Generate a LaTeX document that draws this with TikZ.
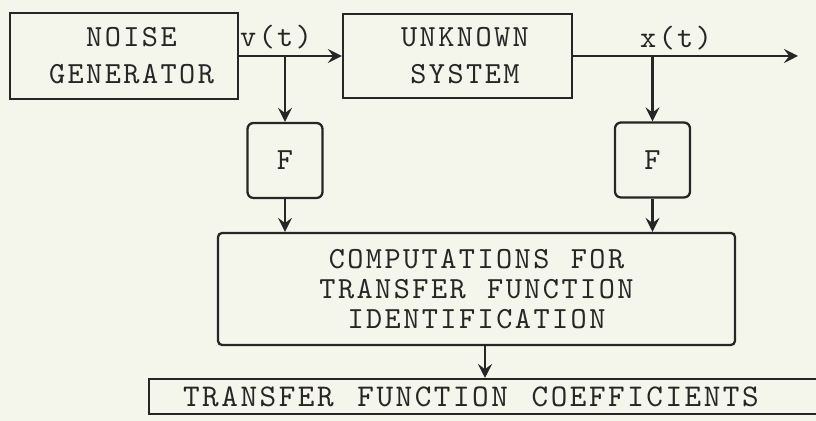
\documentclass[tikz,border=0pt]{standalone}
\usepackage{fontspec}
\newfontfamily\typer{lmmono10-regular.otf}[LetterSpace=8, WordSpace=1.15]
\usetikzlibrary{arrows.meta}
\definecolor{paper}{RGB}{244,245,235}
\definecolor{ink}{RGB}{38,38,38}
\tikzset{
  block/.style={draw=ink, text=ink, line width=1.3pt, inner sep=0pt, align=center,
    font=\typer\fontsize{17.5}{21}\selectfont},
  filt/.style={block, rounded corners=0.12cm, minimum width=1.5cm, minimum height=1.5cm},
  flow/.style={draw=ink, line width=1.3pt, -{Stealth[length=8pt,width=8pt,inset=3pt]}},
  sig/.style={text=ink, inner sep=0pt, font=\typer\fontsize{17.5}{21}\selectfont},
}
\begin{document}
\begin{tikzpicture}[x=0.02cm, y=-0.02cm]
    % background
    \fill[paper] (0,0) rectangle (816,421);
    \clip (0,0) rectangle (816,421);

    % blocks
    \node[block, minimum width=4.56cm, minimum height=1.72cm] (noise) at (124,56) {\hspace{0.3cm}NOISE\\\hspace{0.3cm}GENERATOR};
    \node[block, minimum width=4.58cm, minimum height=1.68cm] (unknown) at (457.5,56) {\hspace{0.3cm}UNKNOWN\\\hspace{0.3cm}SYSTEM};
    \node[filt] (fv) at (285,160.5) {F};
    \node[filt] (fx) at (652.5,160) {F};
    \node[block, rounded corners=0.08cm, minimum width=10.34cm, minimum height=2.24cm,
        font=\typer\fontsize{17.5}{17}\selectfont] (comp) at (476.5,289)
        {COMPUTATIONS FOR\\TRANSFER FUNCTION\\IDENTIFICATION};
    \node[block, anchor=north west, inner xsep=0.68cm, text width=12.88cm, align=left,
        minimum height=0.7cm, font=\typer\fontsize{18}{21}\selectfont] (coef) at (148,378)
        {TRANSFER\hspace{0.75em}FUNCTION\hspace{0.75em}COEFFICIENTS};

    % signal lines
    \coordinate (vbr) at (285,56);
    \coordinate (xbr) at (652.5,56);
    \coordinate (xend) at (798,56);
    \draw[flow] (noise.east) -- (unknown.west);
    \draw[flow] (vbr) -- (fv.north);
    \draw[flow] (unknown.east) -- (xend);
    \draw[flow] (xbr) -- (fx.north);
    \draw[flow] (fv.south) -- (fv.south |- comp.north);
    \draw[flow] (fx.south) -- (fx.south |- comp.north);
    \draw[flow] ([xshift=0.17cm]comp.south) -- ([xshift=0.17cm]comp.south |- coef.north);

    % signal names
    \node[sig] (vt) at (276,37) {v(t)};
    \node[sig] (xt) at (676,38) {x(t)};
\end{tikzpicture}
\end{document}
